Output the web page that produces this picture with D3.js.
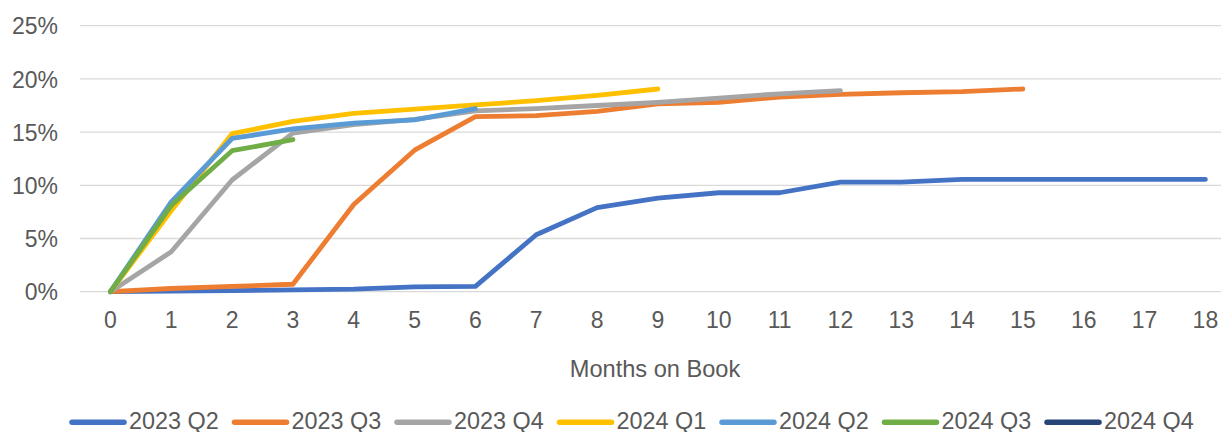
<!DOCTYPE html>
<html>
<head>
<meta charset="utf-8">
<script src="https://cdn.jsdelivr.net/npm/d3@7"></script>
<style>
  body { margin: 0; background: #fff; }
  svg { display: block; font-family: "Liberation Sans", Arial, sans-serif; }
</style>
</head>
<body>
<div id="chart"></div>
<script>
/*
    DATA
*/
let months = d3.range(0, 19);
let yTicks = [0, 5, 10, 15, 20, 25];

let seriesNames = ["2023 Q2", "2023 Q3", "2023 Q4", "2024 Q1", "2024 Q2", "2024 Q3", "2024 Q4"];
let seriesColors = ["#4472C4", "#ED7D31", "#A5A5A5", "#FFC000", "#5B9BD5", "#70AD47", "#264478"];

let q2_2023 = [0, 0.05, 0.1, 0.18, 0.25, 0.45, 0.5, 5.35, 7.9, 8.8, 9.3, 9.3, 10.3, 10.3, 10.55, 10.55, 10.55, 10.55, 10.55];
let q3_2023 = [0, 0.3, 0.5, 0.7, 8.2, 13.3, 16.45, 16.55, 16.95, 17.65, 17.8, 18.3, 18.55, 18.7, 18.8, 19.05];
let q4_2023 = [0, 3.75, 10.5, 14.9, 15.7, 16.2, 17.0, 17.2, 17.5, 17.8, 18.2, 18.6, 18.9];
let q1_2024 = [0, 7.6, 14.85, 16.0, 16.75, 17.15, 17.55, 17.95, 18.45, 19.05];
let q2_2024 = [0, 8.45, 14.4, 15.3, 15.85, 16.15, 17.2];
let q3_2024 = [0, 8.1, 13.25, 14.3];
let q4_2024 = []; // no points yet, legend only

let seriesValues = [q2_2023, q3_2023, q4_2023, q1_2024, q2_2024, q3_2024, q4_2024];

/*
    LAYOUT
*/
let SIZE = { width: 1221, height: 432 };
let PLOT = { left: 80, right: 1235.8, top: 25.7, bot: 291.7 };
let TEXT_COLOR = "#595959";

var svg = d3.select("#chart")
    .append("svg")
    .attr("width", SIZE.width)
    .attr("height", SIZE.height);

var x = d3.scaleBand()
    .domain(months)
    .range([PLOT.left, PLOT.right])
    .padding(0);
var y = d3.scaleLinear()
    .domain([0, 25])
    .range([PLOT.bot, PLOT.top]);

// gridlines
svg.append("g")
    .selectAll("line")
    .data(yTicks)
    .enter()
    .append("line")
    .attr("x1", PLOT.left)
    .attr("x2", PLOT.right)
    .attr("y1", d => y(d))
    .attr("y2", d => y(d))
    .style("stroke", "#D9D9D9")
    .style("stroke-width", "1.3px");

// y axis labels
var yAxis = svg.append("g")
    .attr("transform", "translate(58, 0)")
    .call(d3.axisLeft(y).tickValues(yTicks).tickFormat(d => d + "%").tickSize(0).tickPadding(0));
yAxis.select(".domain").remove();
yAxis.selectAll("text")
    .attr("fill", TEXT_COLOR)
    .style("font-size", "23px")
    .attr("dy", "0.36em");

// x axis labels
var xAxis = svg.append("g")
    .attr("transform", `translate(0, ${PLOT.bot})`)
    .call(d3.axisBottom(x).tickSize(0).tickPadding(0));
xAxis.select(".domain").remove();
xAxis.selectAll("text")
    .attr("fill", TEXT_COLOR)
    .style("font-size", "23px")
    .attr("dy", null)
    .attr("y", 36.6);

svg.append("text")
    .attr("x", 655)
    .attr("y", 377.3)
    .attr("text-anchor", "middle")
    .attr("fill", TEXT_COLOR)
    .style("font-size", "23.6px")
    .text("Months on Book");

// lines
var lineFunction = d3.line()
    .x((d, i) => x(months[i]) + x.bandwidth() / 2)
    .y(d => y(d));

svg.append("g")
    .selectAll("path")
    .data(seriesValues)
    .enter()
    .append("path")
    .attr("d", d => d.length ? lineFunction(d) : null)
    .attr("fill", "none")
    .attr("stroke", (d, i) => seriesColors[i])
    .attr("stroke-width", 4.8)
    .attr("stroke-linecap", "round")
    .attr("stroke-linejoin", "round");

// legend (sits at the bottom edge, as in the original)
var legend = svg.append("g")
    .selectAll("g")
    .data(seriesNames)
    .enter()
    .append("g")
    .attr("transform", (d, i) => `translate(${70 + i * 162.5}, 422.3)`);

legend.append("line")
    .attr("x1", 2)
    .attr("x2", 54)
    .attr("stroke", (d, i) => seriesColors[i])
    .attr("stroke-width", 5.5)
    .attr("stroke-linecap", "round");

legend.append("text")
    .attr("x", 59)
    .attr("y", 6.7)
    .attr("fill", TEXT_COLOR)
    .style("font-size", "23.4px")
    .text(d => d);
</script>
</body>
</html>
